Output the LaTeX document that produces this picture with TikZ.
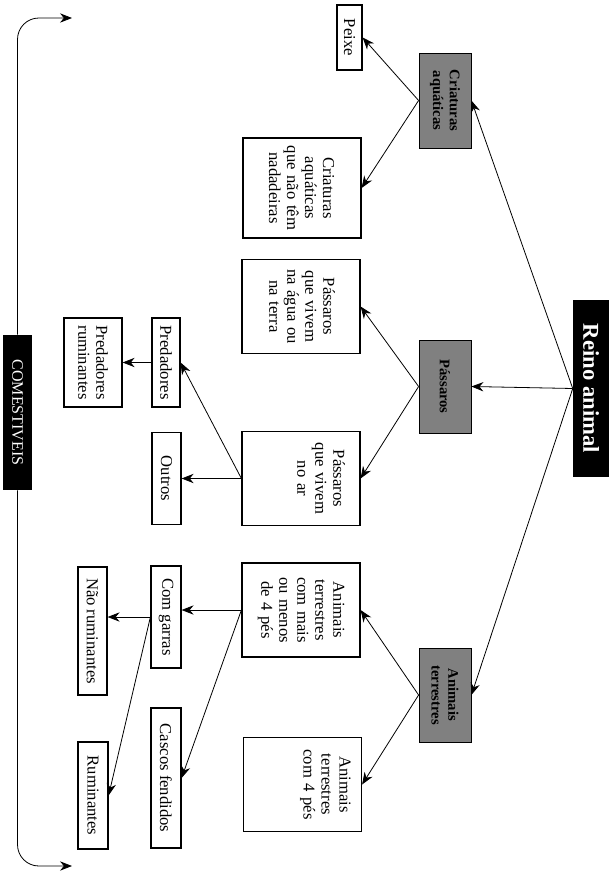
\documentclass[tikz,border=0pt]{standalone}
\usepackage{fontspec}
\setmainfont{Liberation Serif}
\usetikzlibrary{arrows.meta}
\tikzset{
  >={Stealth[length=9pt,width=7pt]},
  wh/.style 2 args={minimum width=#1*0.75pt,minimum height=#2*0.75pt},
  box/.style={draw,line width=0.9pt,fill=white,inner sep=0pt,align=center,
    font=\fontsize{12.5}{13.5}\selectfont},
  tall/.style n args={3}{box,text width=#1,text height=#2,text depth=#3},
  shade box/.style={draw,line width=0.6pt,fill=black!50,inner sep=0pt,align=center,
    font=\fontsize{11}{12.5}\selectfont\bfseries},
  solid box/.style={fill=black,text=white,inner sep=0pt,align=center},
  flow/.style={->,line width=0.6pt},
}
\begin{document}
\begin{tikzpicture}[x=0.75pt,y=0.75pt,rotate=-90,transform shape]
  \useasboundingbox (0,0) rectangle (884,615);
  % root and the three groups
  \node[solid box,wh={177}{36},font=\fontsize{17}{20}\selectfont\bfseries] (reino) at (388.5,591) {Reino animal};
  \node[shade box,wh={95}{52}] (aquaticas) at (100.5,445) {Criaturas\\aquáticas};
  \node[shade box,wh={93}{52}] (passaros) at (386.5,445) {Pássaros};
  \node[shade box,wh={94}{52}] (terrestres) at (695,445) {Animais\\terrestres};
  \foreach \g in {aquaticas,passaros,terrestres}
    \draw[flow] (reino.south) -- (\g.north);
  % second level
  \node[box,wh={65}{25}] (peixe) at (37.5,349.5) {Peixe};
  \node[tall={75pt}{28.5pt}{60pt}] (semnad) at (188,302) {Criaturas\\aquáticas\\que não têm\\nadadeiras};
  \node[tall={70pt}{27.5pt}{61pt}] (agua) at (306.5,301) {Pássaros\\que vivem\\na água ou\\na terra};
  \node[tall={70pt}{20pt}{68.5pt}] (ar) at (478.5,301) {Pássaros\\que vivem\\no ar};
  \node[tall={70.5pt}{20pt}{68.5pt}] (mais) at (610,301) {Animais\\terrestres\\com mais\\ou menos\\de 4 pés};
  \node[tall={70pt}{16.5pt}{72pt}] (quatro) at (784.5,302.5) {Animais\\terrestres\\com 4 pés};
  \draw[flow] (aquaticas.south) -- (peixe.north);
  \draw[flow] (aquaticas.south) -- (semnad.north);
  \draw[flow] (passaros.south) -- (agua.north);
  \draw[flow] (passaros.south) -- (ar.north);
  \draw[flow] (terrestres.south) -- (mais.north);
  \draw[flow] (terrestres.south) -- (quatro.north);
  % third level
  \node[box,wh={89}{28}] (pred) at (362.5,166) {Predadores};
  \node[box,wh={92}{29}] (outros) at (478.5,166.5) {Outros};
  \node[box,wh={89}{58}] (predrum) at (362.5,93) {Predadores\\ruminantes};
  \node[box,wh={102}{30}] (garras) at (617,166) {Com garras};
  \node[box,wh={140}{30}] (cascos) at (778,166) {Cascos fendidos};
  \node[box,wh={128}{29}] (naorum) at (631,92.5) {Não ruminantes};
  \node[box,wh={107}{30}] (rum) at (795.5,93) {Ruminantes};
  \draw[flow] (ar.south) -- (pred.north);
  \draw[flow] (ar.south) -- (outros.north);
  \draw[flow] (pred.south) -- (predrum.north);
  \draw[flow] (mais.south) -- (garras.north -| mais.south);
  \draw[flow] (mais.south) -- (cascos.north);
  \draw[flow] (garras.south) -- (naorum.north -| garras.south);
  \draw[flow] (garras.south) -- (rum.north);
  % edible bracket
  \node[solid box,wh={155}{29},font=\fontsize{12}{14}\selectfont] (comest) at (412.5,17.5) {COMESTIVEIS};
  \coordinate (topc) at (18,17.5);
  \coordinate (topend) at (18,72);
  \coordinate (botc) at (866,17.5);
  \coordinate (botend) at (866,72);
  \draw[flow,rounded corners=16pt] (comest) -- (topc) -- (topend);
  \draw[flow,rounded corners=16pt] (comest) -- (botc) -- (botend);
\end{tikzpicture}
\end{document}
